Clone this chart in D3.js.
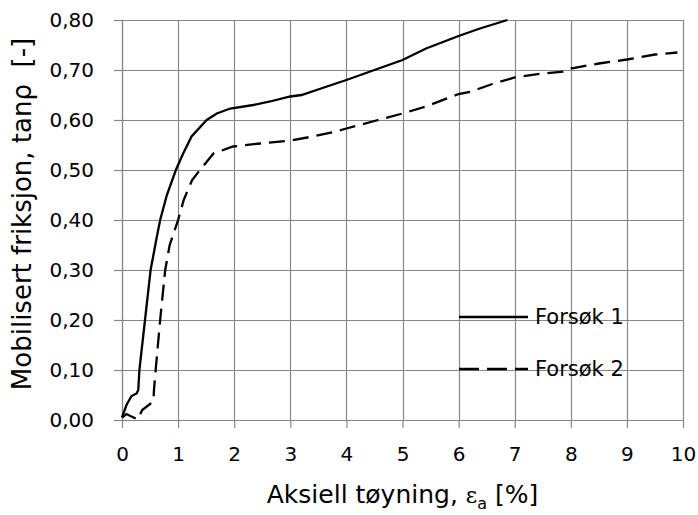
<!DOCTYPE html>
<html>
<head>
<meta charset="utf-8">
<script src="https://cdn.jsdelivr.net/npm/d3@7"></script>
<style>
  body { margin: 0; background: #fff; }
  svg { display: block; font-family: "DejaVu Sans", sans-serif; }
</style>
</head>
<body>
<div id="chart"></div>
<script>
// Forsøk 1 (solid) - [strain %, tan rho]
const forsok1 = [
  [0, 0.005], [0.08, 0.03], [0.17, 0.048], [0.26, 0.053], [0.29, 0.06], [0.31, 0.10],
  [0.36, 0.15], [0.41, 0.20], [0.46, 0.25], [0.51, 0.30], [0.61, 0.36], [0.68, 0.40],
  [0.8, 0.45], [0.96, 0.50], [1.09, 0.533], [1.24, 0.567], [1.51, 0.60], [1.69, 0.613],
  [1.93, 0.623], [2.34, 0.63], [2.64, 0.637], [3.0, 0.647], [3.2, 0.65], [3.6, 0.665],
  [4.0, 0.68], [4.5, 0.70], [5.0, 0.72], [5.42, 0.743], [6.0, 0.768], [6.38, 0.783], [6.87, 0.80]
];
// Forsøk 2 (dashed)
const forsok2 = [
  [0, 0.005], [0.08, 0.012], [0.15, 0.008], [0.28, 0.001], [0.36, 0.02], [0.5, 0.032],
  [0.56, 0.037], [0.57, 0.06], [0.6, 0.10], [0.68, 0.20], [0.77, 0.30], [0.85, 0.35],
  [1.0, 0.40], [1.1, 0.44], [1.25, 0.48], [1.39, 0.50], [1.63, 0.533], [1.98, 0.547],
  [2.46, 0.553], [3.0, 0.559], [3.4, 0.567], [3.82, 0.577], [4.0, 0.583], [4.5, 0.598],
  [5.0, 0.613], [5.42, 0.627], [6.0, 0.652], [6.2, 0.656], [6.6, 0.672], [7.0, 0.685],
  [7.5, 0.693], [7.9, 0.697], [8.0, 0.703], [8.5, 0.713], [9.0, 0.721], [9.5, 0.731], [9.9, 0.735]
];
const xTicks = [0, 1, 2, 3, 4, 5, 6, 7, 8, 9, 10];
const yTicks = [0, 0.1, 0.2, 0.3, 0.4, 0.5, 0.6, 0.7, 0.8];
const seriesNames = ["Forsøk 1", "Forsøk 2"];

const W = 698, H = 515;
const margin = { top: 20, right: 15, bottom: 95, left: 122 };
const width = W - margin.left - margin.right;
const height = H - margin.top - margin.bottom;
const gridColor = "#878787";

const nb = d3.formatLocale({ decimal: ",", thousands: " ", grouping: [3], currency: ["", ""] });
const fmt = nb.format(".2f");

const svg = d3.select("#chart").append("svg")
  .attr("width", W).attr("height", H);
const g = svg.append("g").attr("transform", `translate(${margin.left},${margin.top})`);

const x = d3.scaleLinear().domain([0, 10]).range([0, width]);
const y = d3.scaleLinear().domain([0, 0.8]).range([height, 0]);

// grid
g.append("g").selectAll("line").data(yTicks).join("line")
  .attr("x1", 0).attr("x2", width)
  .attr("y1", d => Math.round(y(d)) + 0.5).attr("y2", d => Math.round(y(d)) + 0.5)
  .attr("stroke", gridColor).attr("stroke-width", 1.2);
g.append("g").selectAll("line").data(xTicks).join("line")
  .attr("y1", 0).attr("y2", height)
  .attr("x1", d => Math.round(x(d)) + 0.5).attr("x2", d => Math.round(x(d)) + 0.5)
  .attr("stroke", gridColor).attr("stroke-width", 1.2);

// axes
const yAxis = g.append("g")
  .call(d3.axisLeft(y).tickValues(yTicks).tickFormat(fmt).tickSizeInner(8).tickSizeOuter(0).tickPadding(20));
const xAxis = g.append("g").attr("transform", `translate(0,${height})`)
  .call(d3.axisBottom(x).tickValues(xTicks).tickSizeInner(8).tickSizeOuter(0).tickPadding(19));
[yAxis, xAxis].forEach(a => {
  a.selectAll("path, line").attr("stroke", gridColor).attr("stroke-width", 1.2);
  a.selectAll("text").attr("font-size", 20).attr("fill", "#000")
    .attr("font-family", "DejaVu Sans, sans-serif");
});

// lines
const line = d3.line().x(d => x(d[0])).y(d => y(d[1]));
g.append("path").datum(forsok1).attr("d", line)
  .attr("fill", "none").attr("stroke", "#000").attr("stroke-width", 2.3);
g.append("path").datum(forsok2).attr("d", line)
  .attr("fill", "none").attr("stroke", "#000").attr("stroke-width", 2.3)
  .attr("stroke-dasharray", "16,8");

// legend
const legendY = [317, 369];
const lg = svg.append("g");
seriesNames.forEach((name, i) => {
  lg.append("line")
    .attr("x1", 459).attr("x2", 528).attr("y1", legendY[i]).attr("y2", legendY[i])
    .attr("stroke", "#000").attr("stroke-width", 2.3)
    .attr("stroke-dasharray", i === 1 ? "20,8" : null);
  lg.append("text").attr("x", 535).attr("y", legendY[i] + 7)
    .attr("font-size", 21).text(name);
});

// axis titles
const xt = svg.append("text")
  .attr("x", margin.left + width / 2).attr("y", 503)
  .attr("text-anchor", "middle").attr("font-size", 25);
xt.append("tspan").text("Aksiell tøyning, ");
xt.append("tspan").attr("font-family", "DejaVu Serif, serif").attr("font-size", 22).text("ε");
xt.append("tspan").attr("font-size", 16).attr("dy", 6).text("a");
xt.append("tspan").attr("dy", -6).text(" [%]");

svg.append("text")
  .attr("transform", `translate(31,214) rotate(-90)`)
  .attr("text-anchor", "middle").attr("font-size", 26)
  .style("white-space", "pre")
  .text("Mobilisert friksjon, tanρ  [-]");
</script>
</body>
</html>
